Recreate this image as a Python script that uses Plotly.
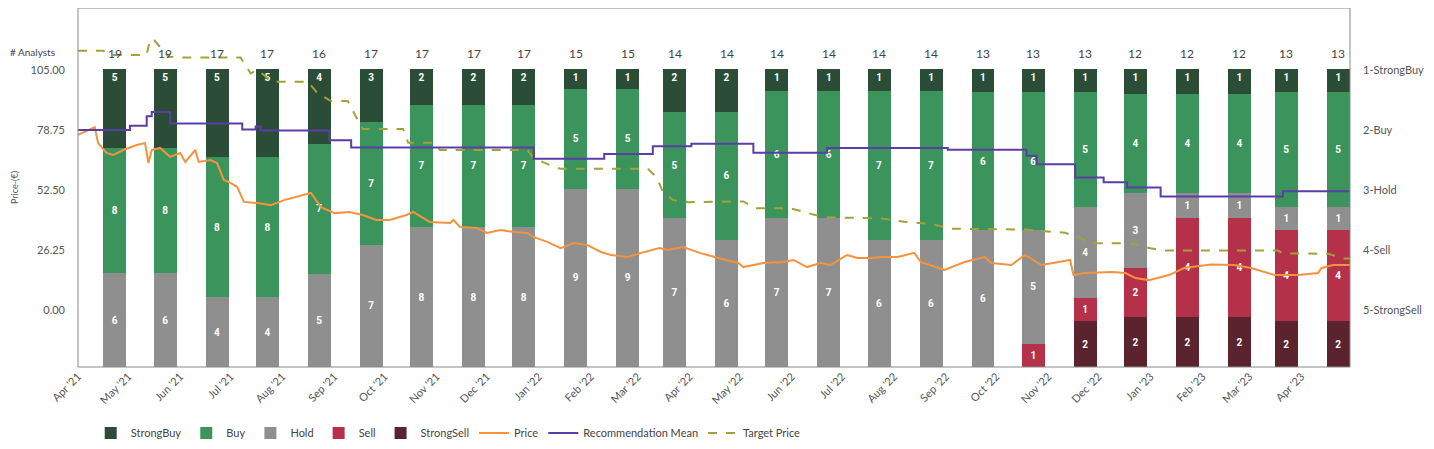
import pandas as pd
import plotly.graph_objects as go

# monthly analyst ratings
months = ["2021-04", "2021-05", "2021-06", "2021-07", "2021-08", "2021-09", "2021-10",
          "2021-11", "2021-12", "2022-01", "2022-02", "2022-03", "2022-04", "2022-05",
          "2022-06", "2022-07", "2022-08", "2022-09", "2022-10", "2022-11", "2022-12",
          "2023-01", "2023-02", "2023-03", "2023-04"]
strong_buy = [5, 5, 5, 5, 4, 3, 2, 2, 2, 1, 1, 2, 2, 1, 1, 1, 1, 1, 1, 1, 1, 1, 1, 1, 1]
buy = [8, 8, 8, 8, 7, 7, 7, 7, 7, 5, 5, 5, 6, 6, 6, 7, 7, 6, 6, 5, 4, 4, 4, 5, 5]
hold = [6, 6, 4, 4, 5, 7, 8, 8, 8, 9, 9, 7, 6, 7, 7, 6, 6, 6, 5, 4, 3, 1, 1, 1, 1]
sell = [0, 0, 0, 0, 0, 0, 0, 0, 0, 0, 0, 0, 0, 0, 0, 0, 0, 0, 1, 1, 2, 4, 4, 4, 4]
strong_sell = [0, 0, 0, 0, 0, 0, 0, 0, 0, 0, 0, 0, 0, 0, 0, 0, 0, 0, 0, 2, 2, 2, 2, 2, 2]

# share price (EUR)
price_dates = ["2021-04-01", "2021-04-08", "2021-04-11", "2021-04-13", "2021-04-18", "2021-04-22",
               "2021-04-28", "2021-05-06", "2021-05-11", "2021-05-13", "2021-05-15", "2021-05-20",
               "2021-05-26", "2021-06-01", "2021-06-04", "2021-06-10", "2021-06-12", "2021-06-19",
               "2021-06-23", "2021-06-27", "2021-07-01", "2021-07-05", "2021-07-09", "2021-07-17",
               "2021-07-25", "2021-08-02", "2021-08-13", "2021-08-18", "2021-08-24", "2021-09-01",
               "2021-09-10", "2021-09-18", "2021-09-26", "2021-10-04", "2021-10-14", "2021-10-18",
               "2021-10-28", "2021-11-09", "2021-11-11", "2021-11-15", "2021-11-25", "2021-12-01",
               "2021-12-09", "2021-12-17", "2021-12-25", "2021-12-29", "2022-01-06", "2022-01-14",
               "2022-01-22", "2022-01-30", "2022-02-07", "2022-02-13", "2022-02-23", "2022-03-03",
               "2022-03-14", "2022-03-19", "2022-03-28", "2022-04-07", "2022-04-18", "2022-04-30",
               "2022-05-03", "2022-05-15", "2022-05-27", "2022-06-02", "2022-06-10", "2022-06-18",
               "2022-06-24", "2022-07-04", "2022-07-10", "2022-07-18", "2022-07-24", "2022-08-03",
               "2022-08-13", "2022-08-17", "2022-08-31", "2022-09-12", "2022-09-24", "2022-09-28",
               "2022-10-10", "2022-10-18", "2022-10-28", "2022-11-07", "2022-11-14", "2022-11-16",
               "2022-11-23", "2022-12-09", "2022-12-17", "2022-12-23", "2022-12-31", "2023-01-12",
               "2023-01-21", "2023-02-06", "2023-02-20", "2023-03-02", "2023-03-16", "2023-03-30",
               "2023-04-11", "2023-04-13", "2023-04-20", "2023-04-30"]
price = [76.6, 78.8, 80.0, 73.0, 68.7, 67.8, 70.0, 72.2, 73.0, 64.3, 70.0, 70.9,
         67.0, 68.7, 64.8, 70.0, 64.8, 65.6, 64.3, 56.9, 55.6, 53.8, 47.3, 46.8,
         45.9, 48.1, 50.3, 51.2, 45.0, 42.4, 42.9, 41.6, 39.4, 39.4, 41.6, 42.9,
         38.5, 38.1, 39.4, 36.3, 35.9, 33.7, 35.0, 34.1, 33.7, 31.9, 29.8, 27.1,
         29.3, 28.4, 25.4, 24.1, 23.2, 25.0, 27.1, 26.3, 27.6, 25.0, 22.8, 20.6,
         18.8, 20.6, 21.0, 21.9, 18.8, 20.6, 19.7, 24.1, 22.8, 22.8, 23.2, 23.2,
         25.0, 21.0, 17.5, 21.0, 23.2, 20.6, 19.7, 24.1, 19.7, 21.0, 21.9, 15.3,
         16.2, 16.6, 16.2, 14.0, 13.1, 15.3, 18.4, 19.9, 19.7, 18.4, 15.3, 15.3,
         16.2, 18.4, 19.7, 19.7]

# recommendation mean (1 = strong buy ... 5 = strong sell)
rec_dates = ["2021-04-01", "2021-05-02", "2021-05-12", "2021-05-15", "2021-05-26", "2021-07-08",
             "2021-07-16", "2021-07-19", "2021-08-29", "2021-09-11", "2021-12-29", "2022-02-09",
             "2022-03-10", "2022-04-02", "2022-05-09", "2022-06-22", "2022-09-02", "2022-10-19",
             "2022-10-25", "2022-11-17", "2022-12-04", "2022-12-18", "2023-01-07", "2023-03-21",
             "2023-04-30"]
rec_mean = [2.00, 1.93, 1.77, 1.70, 1.89, 1.99, 1.94, 2.01, 2.17, 2.29, 2.48, 2.40,
            2.27, 2.23, 2.38, 2.30, 2.33, 2.43, 2.57, 2.79, 2.87, 2.96, 3.11, 3.02, 3.02]

# mean target price (EUR)
target_dates = ["2021-04-01", "2021-04-16", "2021-04-20", "2021-05-12", "2021-05-14", "2021-05-16",
                "2021-05-25", "2021-05-30", "2021-07-07", "2021-07-13", "2021-07-17", "2021-07-26",
                "2021-08-16", "2021-08-22", "2021-08-30", "2021-09-09", "2021-09-17", "2021-09-18",
                "2021-10-12", "2021-10-15", "2021-10-30", "2021-11-03", "2021-12-25", "2021-12-29",
                "2022-01-10", "2022-01-14", "2022-03-07", "2022-03-12", "2022-03-16", "2022-03-22",
                "2022-03-31", "2022-05-03", "2022-05-10", "2022-05-31", "2022-06-20", "2022-07-24",
                "2022-08-07", "2022-08-23", "2022-09-04", "2022-10-18", "2022-11-11", "2022-11-18",
                "2022-11-27", "2022-12-20", "2023-01-01", "2023-01-10", "2023-03-18", "2023-03-21",
                "2023-04-17", "2023-04-26", "2023-04-30"]
target = [113.4, 113.4, 111.6, 111.6, 118.4, 118.4, 110.8, 110.5, 110.5, 103.5, 105.0, 99.9,
          99.9, 94.8, 91.4, 91.4, 80.2, 79.2, 79.2, 73.2, 73.2, 70.0, 70.0, 66.4,
          62.7, 61.8, 61.8, 58.3, 51.8, 48.1, 47.2, 47.5, 44.5, 44.5, 40.6, 40.1,
          38.6, 37.6, 35.6, 35.2, 33.8, 32.1, 29.2, 29.2, 27.0, 26.0, 26.0, 24.8,
          24.6, 22.6, 22.6]

rec_labels = ["1-StrongBuy", "2-Buy", "3-Hold", "4-Sell", "5-StrongSell"]

bar_x = pd.to_datetime(months) + pd.Timedelta(days=22)
analysts = [a + b + c + d + e for a, b, c, d, e in zip(strong_buy, buy, hold, sell, strong_sell)]

fig = go.Figure()

# bottom of the stack first
groups = [("StrongSell", strong_sell, "#5a232d", 5),
          ("Sell", sell, "#b5314a", 4),
          ("Hold", hold, "#8f8f8f", 3),
          ("Buy", buy, "#3a945c", 2),
          ("StrongBuy", strong_buy, "#2b4d38", 1)]
for name, vals, col, rank in groups:
    fig.add_trace(go.Bar(x=bar_x, y=vals, name=name, marker_color=col, marker_line_width=0,
                         width=13.7 * 86400000, legendrank=rank,
                         text=[str(v) if v else "" for v in vals],
                         textposition="inside", textangle=0,
                         insidetextanchor="end" if name == "StrongBuy" else "middle",
                         textfont=dict(color="white", size=10, family="Roboto", weight="bold"),
                         yaxis="y"))

fig.add_trace(go.Scatter(x=price_dates, y=price, name="Price", mode="lines",
                         line=dict(color="#f5923e", width=2), legendrank=6, yaxis="y2"))
fig.add_trace(go.Scatter(x=rec_dates, y=rec_mean, name="Recommendation Mean", mode="lines",
                         line=dict(color="#5b3ea5", width=2, shape="hv"), legendrank=7, yaxis="y3"))
fig.add_trace(go.Scatter(x=target_dates, y=target, name="Target Price", mode="lines",
                         line=dict(color="#a5a13a", width=2, dash="dash"), legendrank=8, yaxis="y2"))

ann = [dict(x=d, y=0.9, xref="x", yref="paper", text=str(n), showarrow=False,
            font=dict(size=12, color="#444")) for d, n in zip(bar_x, analysts)]
ann.append(dict(x=-0.0165, y=0.9, xref="paper", yref="paper", text="# Analysts",
                showarrow=False, xanchor="right", font=dict(size=10, color="#444")))

# page body adds 8px, so the figure is 8px smaller than the window
fig.update_layout(
    width=1426, height=441,
    margin=dict(l=70, r=84, t=0, b=82, autoexpand=False),
    paper_bgcolor="white", plot_bgcolor="white",
    barmode="stack", barnorm="fraction",
    font=dict(family="Lato", color="#555"),
    showlegend=True,
    legend=dict(orientation="h", x=0.01, xanchor="left", y=-0.184, yanchor="middle",
                font=dict(size=11, color="#444"), traceorder="normal"),
    xaxis=dict(type="date", range=["2021-04-01", "2023-04-30"], dtick="M1",
               tick0="2021-04-01", tickformat="%b '%y", tickangle=-45, automargin=False,
               showgrid=False, zeroline=False, tickfont=dict(size=11, color="#555")),
    yaxis=dict(range=[0, 1.2067], visible=False, showgrid=False, automargin=False),
    yaxis2=dict(range=[-24.9, 132.1], overlaying="y", side="left", showgrid=False,
                zeroline=False, tickvals=[0, 26.25, 52.5, 78.75, 105], tickformat=".2f",
                tickfont=dict(size=11, color="#555"), ticklabelstandoff=12, automargin=False,
                title=dict(text="Price-(€)", font=dict(size=9, color="#555"), standoff=10)),
    yaxis3=dict(range=[5.95, -0.033], overlaying="y", side="right", showgrid=False,
                zeroline=False, tickvals=[1, 2, 3, 4, 5], ticktext=rec_labels,
                tickfont=dict(size=11, color="#555"), ticklabelstandoff=12, automargin=False),
    annotations=ann,
    shapes=[dict(type="rect", xref="paper", yref="paper", x0=0, x1=1, y0=0, y1=1,
                 line=dict(color="#888", width=1), layer="above")],
)

fig.write_html("out.html")
